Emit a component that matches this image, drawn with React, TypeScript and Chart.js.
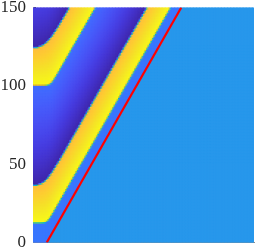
import { useEffect, useRef } from 'react';
import { Chart, registerables } from 'chart.js';
Chart.register(...registerables);

// ---- axes ----
const yTicks = [0, 50, 100, 150];
const xRange = [0, 100];
const yRange = [0, 150];

// ---- red front line (data coords) ----
const redLine = [
  { x: 6.22, y: 0 },
  { x: 67.1, y: 150 },
];

// ---- band edges, bottom to top ----
// y where each edge meets the left axis
const edgeLeftY = [12.9, 36.4, 100.5, 124.0];
// x where the straight diagonal part of each edge would cross that y
const edgeCornerX = [6.6, 5.5, 8.1, 6.0];
// roundness of each corner (x units)
const edgeSoftness = [0.7, 1.8, 0.8, 2.2];
// dy/dx of the diagonal parts
const edgeSlope = 2.464;

// ---- field levels (0..1 on the parula map) ----
const stripValue = 0.24;
const bandValues = [1.0, 0.84]; // at lower edge, at upper edge
const troughValues = [0.0, 0.22]; // at lower edge, at upper edge
const backgroundValue = 0.335;

// grid resolution
const NX = 150;
const NY = 157;

const PARULA: number[][] = [
  [0.2422, 0.1504, 0.6603], [0.2504, 0.165, 0.7076], [0.2578, 0.1818, 0.7511], [0.2647, 0.1978, 0.7952],
  [0.2706, 0.2147, 0.8364], [0.2751, 0.2342, 0.871], [0.2783, 0.2559, 0.8991], [0.2803, 0.2782, 0.9221],
  [0.2813, 0.3006, 0.9414], [0.281, 0.3228, 0.9579], [0.2795, 0.3447, 0.9717], [0.276, 0.3667, 0.9829],
  [0.2699, 0.3892, 0.9906], [0.2602, 0.4123, 0.9952], [0.244, 0.4358, 0.9988], [0.2206, 0.4603, 0.9973],
  [0.1963, 0.4847, 0.9892], [0.1834, 0.5074, 0.9798], [0.1786, 0.5289, 0.9682], [0.1764, 0.5499, 0.952],
  [0.1687, 0.5703, 0.9359], [0.154, 0.5902, 0.9218], [0.146, 0.6091, 0.9079], [0.138, 0.6276, 0.8973],
  [0.1248, 0.6459, 0.8883], [0.1113, 0.6635, 0.8763], [0.0952, 0.6798, 0.8598], [0.0689, 0.6948, 0.8394],
  [0.0297, 0.7082, 0.8163], [0.0036, 0.7203, 0.7917], [0.0067, 0.7312, 0.766], [0.0433, 0.7411, 0.7394],
  [0.0964, 0.75, 0.712], [0.1408, 0.7584, 0.6842], [0.1717, 0.767, 0.6554], [0.1938, 0.7758, 0.6251],
  [0.2161, 0.7843, 0.5923], [0.247, 0.7918, 0.5567], [0.2906, 0.7973, 0.5188], [0.3406, 0.8008, 0.4789],
  [0.3909, 0.8029, 0.4354], [0.4456, 0.8024, 0.3909], [0.5044, 0.7993, 0.348], [0.5616, 0.7942, 0.3045],
  [0.6174, 0.7876, 0.2612], [0.672, 0.7793, 0.2227], [0.7242, 0.7698, 0.191], [0.7738, 0.7598, 0.1646],
  [0.8203, 0.7498, 0.1535], [0.8634, 0.7406, 0.1596], [0.9035, 0.733, 0.1774], [0.9393, 0.7288, 0.21],
  [0.9728, 0.7298, 0.2394], [0.9956, 0.7434, 0.2371], [0.997, 0.7659, 0.2199], [0.9952, 0.7893, 0.2028],
  [0.9892, 0.8136, 0.1885], [0.9786, 0.8386, 0.1766], [0.9676, 0.8639, 0.1643], [0.961, 0.889, 0.1537],
  [0.9597, 0.9135, 0.1423], [0.9628, 0.9373, 0.1265], [0.9691, 0.9606, 0.1064], [0.9769, 0.9839, 0.0805],
];

function parula(v: number): string {
  const t = Math.min(1, Math.max(0, v)) * 63;
  const i = Math.min(62, Math.floor(t));
  const f = t - i;
  const a = PARULA[i];
  const b = PARULA[i + 1];
  const c = [0, 1, 2].map((k) => Math.round(255 * (a[k] + (b[k] - a[k]) * f)));
  return `rgb(${c[0]},${c[1]},${c[2]})`;
}

const PX_PER_X = 225 / 100;
const PX_PER_Y = 235 / 150;
const EDGE_HALF = 1.0; // px

function edgeAt(k: number, x: number) {
  const w = edgeSoftness[k];
  const u = (x - edgeCornerX[k]) / w;
  const sp = u > 30 ? u : Math.log1p(Math.exp(u));
  const sig = 1 / (1 + Math.exp(-u));
  return { y: edgeLeftY[k] + edgeSlope * w * sp, dy: edgeSlope * sig };
}

function lerp(a: number, b: number, t: number) {
  return a + (b - a) * t;
}

function cellValue(x: number, y: number): number {
  const p0 = redLine[0];
  const p1 = redLine[1];
  const xr = p0.x + ((y - p0.y) * (p1.x - p0.x)) / (p1.y - p0.y);
  if (x > xr) return backgroundValue;
  const e = [0, 1, 2, 3].map((k) => edgeAt(k, x));
  const below = [stripValue, bandValues[1], troughValues[1], bandValues[1]];
  const above = [bandValues[0], troughValues[0], bandValues[0], troughValues[0]];
  const trough = e[2].y - e[1].y;
  let v: number;
  if (y < e[0].y) v = stripValue;
  else if (y < e[1].y) v = lerp(bandValues[0], bandValues[1], (y - e[0].y) / (e[1].y - e[0].y));
  else if (y < e[2].y) v = lerp(troughValues[0], troughValues[1], (y - e[1].y) / trough);
  else if (y < e[3].y) v = lerp(bandValues[0], bandValues[1], (y - e[2].y) / (e[3].y - e[2].y));
  else v = lerp(troughValues[0], troughValues[1], (y - e[3].y) / trough);
  for (let k = 0; k < 4; k++) {
    const s = (e[k].dy * PX_PER_Y) / PX_PER_X;
    const d = ((y - e[k].y) * PX_PER_Y) / Math.sqrt(1 + s * s);
    if (Math.abs(d) < EDGE_HALF) {
      v = lerp(below[k], above[k], 0.5 + d / (2 * EDGE_HALF));
      break;
    }
  }
  return v;
}

export default function App() {
  const ref = useRef<HTMLCanvasElement | null>(null);
  useEffect(() => {
    document.body.style.margin = '0';
    if (!ref.current) return;
    const pts: { x: number; y: number }[] = [];
    const cols: string[] = [];
    const dx = (xRange[1] - xRange[0]) / NX;
    const dy = (yRange[1] - yRange[0]) / NY;
    for (let j = 0; j < NY; j++) {
      const y = yRange[0] + (j + 0.5) * dy;
      for (let i = 0; i < NX; i++) {
        const x = xRange[0] + (i + 0.5) * dx;
        pts.push({ x, y });
        cols.push(parula(cellValue(x, y)));
      }
    }
    const chart = new Chart(ref.current, {
      type: 'scatter',
      data: {
        datasets: [
          {
            type: 'line',
            data: redLine,
            borderColor: '#ff0000',
            borderWidth: 2.2,
            pointRadius: 0,
            fill: false,
            order: 0,
            clip: 0,
          } as any,
          {
            data: pts,
            backgroundColor: cols,
            pointStyle: 'rect',
            pointRadius: 1.7,
            borderWidth: 0,
            order: 1,
            clip: 0,
          } as any,
        ],
      },
      options: {
        animation: false,
        responsive: true,
        maintainAspectRatio: false,
        events: [],
        layout: { padding: { top: 7.5, bottom: 6.5, left: 0, right: 0 } },
        plugins: { legend: { display: false }, tooltip: { enabled: false } },
        scales: {
          x: {
            type: 'linear',
            min: xRange[0],
            max: xRange[1],
            grid: { display: false, drawTicks: false },
            ticks: { display: false },
            border: { display: true, color: '#8c8c8c', width: 1 },
            z: 1,
            afterFit: (s: any) => {
              s.height = 0;
              s.paddingLeft = 0;
              s.paddingRight = 0;
            },
          },
          y: {
            type: 'linear',
            min: yRange[0],
            max: yRange[1],
            afterBuildTicks: (s: any) => {
              s.ticks = yTicks.map((v) => ({ value: v }));
            },
            grid: {
              display: true,
              drawOnChartArea: false,
              drawTicks: true,
              tickLength: -3,
              tickColor: '#404040',
              tickWidth: 1,
            },
            ticks: {
              color: '#262626',
              padding: 10,
              font: { family: "'Liberation Serif', serif", size: 17 },
            },
            border: { display: true, color: '#8c8c8c', width: 1 },
            z: 1,
            afterFit: (s: any) => {
              s.width = 33;
              s.paddingTop = 0;
              s.paddingBottom = 0;
            },
          },
        },
      },
    });
    return () => chart.destroy();
  }, []);
  return (
    <div style={{ width: 258, height: 249, position: 'relative' }}>
      <canvas ref={ref} />
    </div>
  );
}
